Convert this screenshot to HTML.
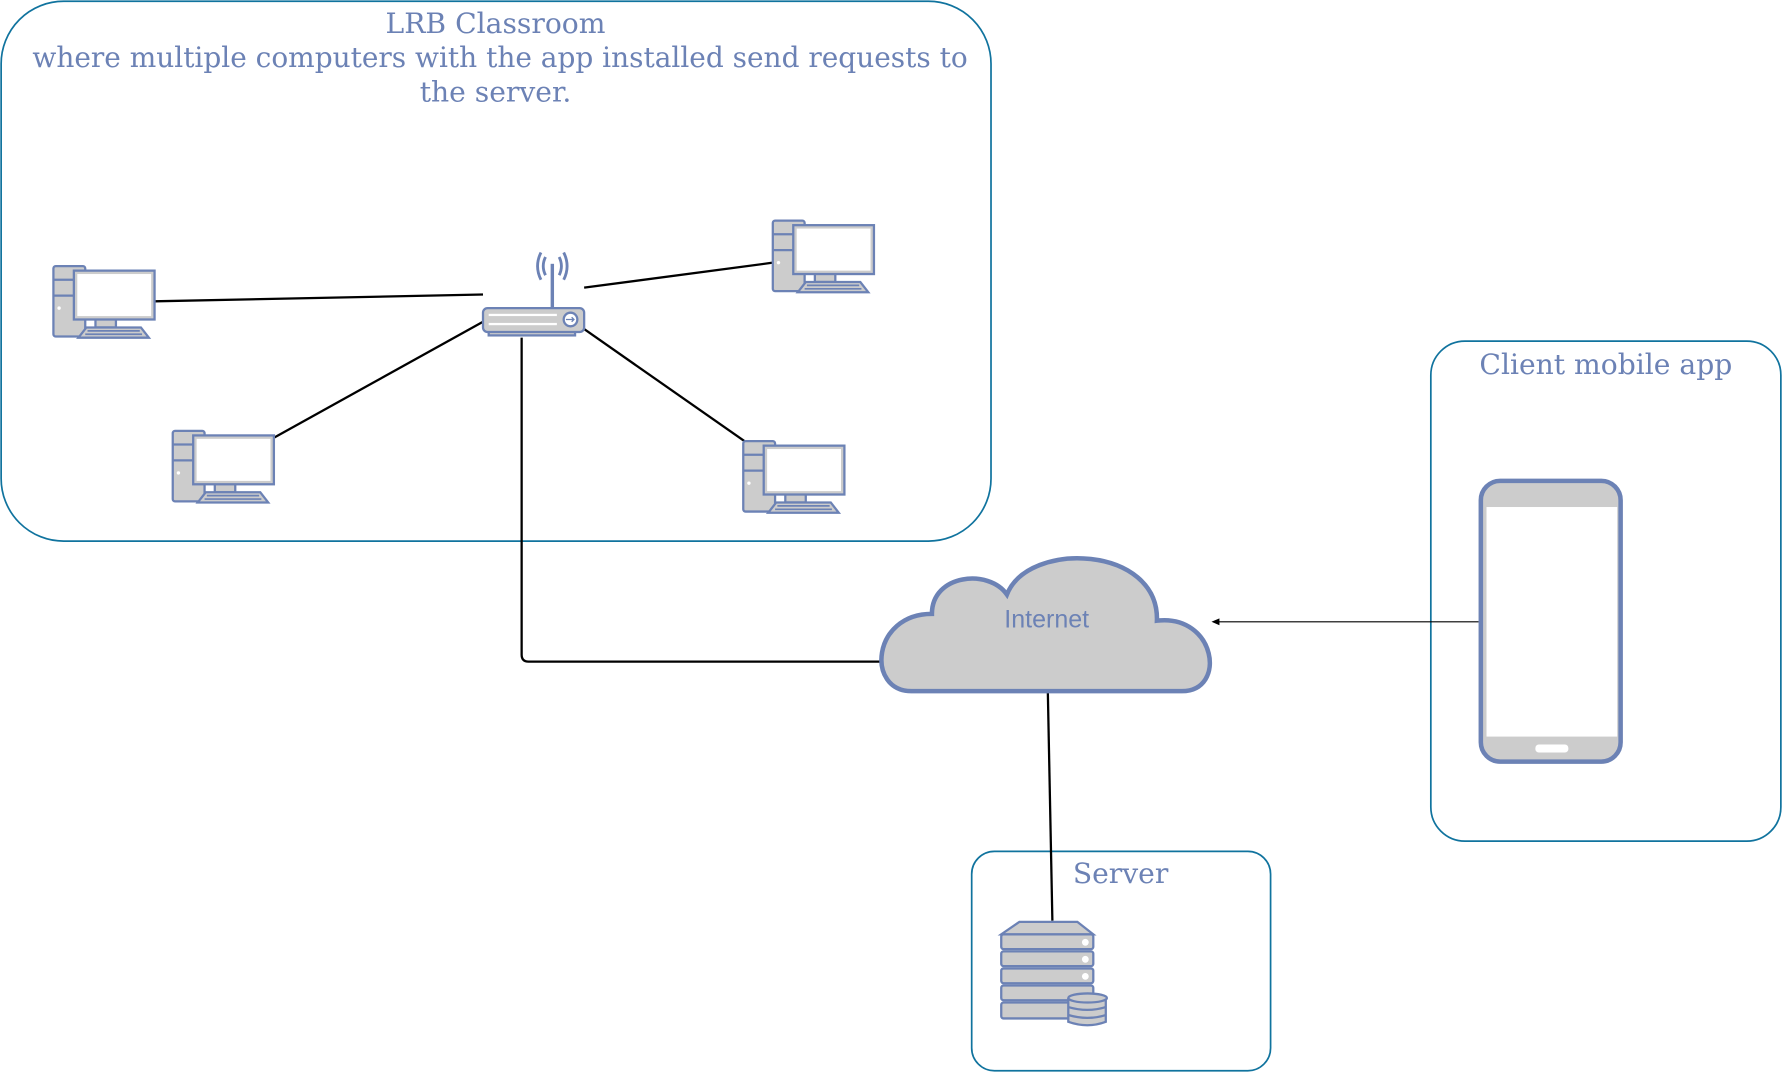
<!DOCTYPE html>
<html><head><meta charset="utf-8"><style>html,body{margin:0;padding:0;background:#fff}svg{display:block}</style></head>
<body>
<svg width="1782" height="1072" viewBox="0 0 1568 943" xmlns="http://www.w3.org/2000/svg">
<defs>
<g id="pc" stroke="#6c82b5" stroke-width="2" fill="#ccc">
<rect x="0" y="0" width="28" height="62" rx="2"/>
<line x1="0" y1="12" x2="28" y2="12"/><line x1="0" y1="26" x2="28" y2="26"/>
<circle cx="5" cy="37" r="1.5" fill="#fff" stroke="none"/>
<rect x="37" y="46" width="18" height="8"/>
<rect x="18" y="4" width="71" height="43" fill="#ccc"/>
<rect x="21" y="7" width="65" height="37" fill="#fff" stroke="none"/>
<polygon points="22,63 84,63 77,54 29,54"/>
<line x1="30" y1="57" x2="76" y2="57" stroke-width="1.5"/><line x1="28" y1="60" x2="78" y2="60" stroke-width="1.5"/>
</g>
</defs>
<g fill="none" stroke="#10739e" stroke-width="1.5">
<rect x="1" y="1" width="871" height="475" rx="55"/>
<rect x="1259" y="300" width="308" height="440" rx="30"/>
<rect x="855" y="749" width="263" height="193" rx="20"/>
</g>
<g font-family="'DejaVu Serif','Liberation Serif',serif" font-size="24.8" fill="#6c82b5" text-anchor="middle">
<text x="436" y="29">LRB Classroom</text>
<text x="440" y="59" textLength="823" lengthAdjust="spacingAndGlyphs">where multiple computers with the app installed send requests to</text>
<text x="436" y="89">the server.</text>
<text x="1413" y="329">Client mobile app</text>
<text x="986" y="777">Server</text>
</g>
<g stroke="#000" stroke-width="2" fill="none">
<line x1="136" y1="265" x2="425" y2="259"/>
<line x1="241" y1="385" x2="425" y2="283"/>
<line x1="514" y1="253" x2="680" y2="231"/>
<line x1="512" y1="288" x2="655" y2="388"/>
<path d="M459 297 V576 Q459 582 465 582 H777"/>
<line x1="922" y1="609" x2="926" y2="810"/>
</g>
<line x1="1301" y1="547" x2="1072" y2="547" stroke="#000" stroke-width="1"/>
<polygon points="1066,547 1073,544 1073,550" fill="#000"/>
<use href="#pc" x="47" y="234"/>
<use href="#pc" x="152" y="379"/>
<use href="#pc" x="680" y="194"/>
<use href="#pc" x="654" y="388"/>
<g stroke="#6c82b5" stroke-width="2" fill="#ccc">
<rect x="430" y="290" width="76" height="5"/>
<line x1="486" y1="232" x2="486" y2="272" stroke-width="3"/>
<path d="M480 226 Q476 234 480 242 M476 222 Q470 234 476 246 M492 226 Q496 234 492 242 M496 222 Q502 234 496 246" fill="none" stroke-width="2.5"/>
<rect x="425" y="271" width="89" height="21" rx="4"/>
<circle cx="502" cy="281" r="6" fill="#fff"/>
</g>
<path d="M498 281 H505 M503 279 L505 281 L503 283" stroke="#6c82b5" stroke-width="1.2" fill="none"/>
<g fill="#fff"><rect x="430" y="276" width="60" height="2"/><rect x="430" y="284" width="60" height="2"/></g>
<path d="M802 608 C762 608 767 540 820 540 C820 505 870 500 886 523 C905 475 1020 480 1018 546 C1070 540 1080 608 1040 608 Z" fill="#ccc" stroke="#6c82b5" stroke-width="4"/>
<text x="921" y="552" font-family="'Liberation Sans',sans-serif" font-size="22" fill="#6c82b5" text-anchor="middle">Internet</text>
<rect x="1303" y="423" width="123" height="247" rx="17" fill="#ccc" stroke="#6c82b5" stroke-width="4"/>
<rect x="1308" y="446" width="115" height="202" fill="#fff"/>
<rect x="1351" y="655" width="29" height="7" rx="3" fill="#fff"/>
<g stroke="#6c82b5" stroke-width="2" fill="#ccc">
<polygon points="881,822 962,822 948,811 897,811"/>
<rect x="881" y="822" width="81" height="13" rx="2"/>
<rect x="881" y="837" width="81" height="13" rx="2"/>
<rect x="881" y="852" width="81" height="13" rx="2"/>
<rect x="881" y="867" width="81" height="13" rx="2"/>
<rect x="881" y="882" width="81" height="14" rx="2"/>
<path d="M940 878 V899 Q957 905 973 899 V878" />
<ellipse cx="957" cy="878" rx="17" ry="4"/>
<path d="M940 886 Q957 891 973 886 M940 893 Q957 898 973 893" fill="none"/>
</g>
<g fill="#fff"><circle cx="955" cy="829" r="3"/><circle cx="955" cy="844" r="3"/><circle cx="955" cy="859" r="3"/></g>
</svg>
</body></html>
